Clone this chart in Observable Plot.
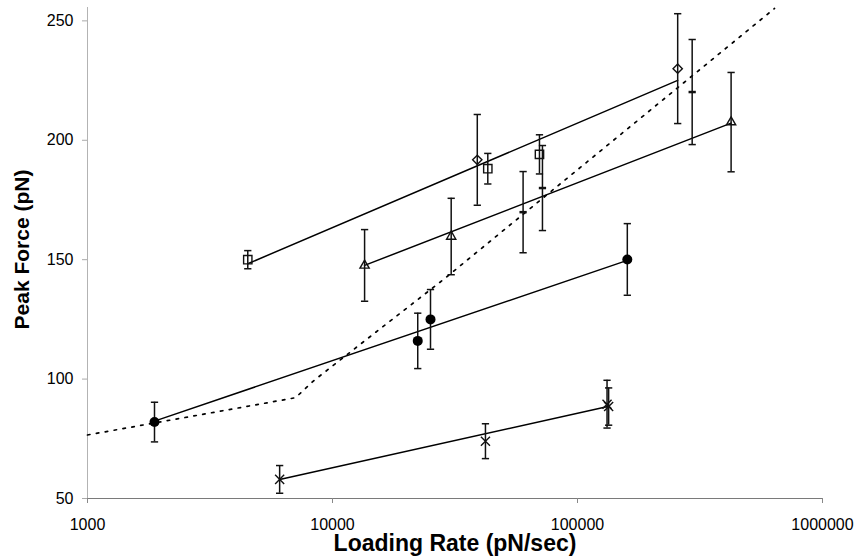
<!DOCTYPE html>
<html><head><meta charset="utf-8">
<script src="https://cdn.jsdelivr.net/npm/d3@7"></script>
<script src="https://cdn.jsdelivr.net/npm/@observablehq/plot@0.6"></script>
<style>body{margin:0;background:#fff}</style>
</head><body><div id="chart"></div>
<script>
// Axis ticks
const xTicks = [1000, 10000, 100000, 1000000];
const yTicks = [50, 100, 150, 200, 250];

// Series: open squares
const squareRate = [4510, 43040, 69950];
const squareForce = [150.0, 188.1, 194.1];
const squareErr = [3.8, 6.4, 8.2];

// Series: open diamonds
const diamondRate = [38990, 256400];
const diamondForce = [191.8, 230.0];
const diamondErr = [19, 23];

// Series: open triangles
const triangleRate = [13520, 30510, 423600];
const triangleForce = [147.6, 159.7, 207.6];
const triangleErr = [15, 16, 20.8];

// Series: filled circles
const circleRate = [1877, 22280, 25120, 159700];
const circleForce = [82.0, 116.0, 125.0, 150.1];
const circleErr = [8.3, 11.6, 12.5, 15];

// Series: crosses
const crossRate = [6085, 42100, 132000, 134000];
const crossForce = [58.0, 74.0, 89.5, 88.5];
const crossErr = [5.8, 7.3, 10, 7.8];

// Series: dash markers
const dashRate = [59970, 71940, 293800];
const dashForce = [169.9, 180.0, 220.2];
const dashErr = [17, 17.8, 22];

// Dotted model curve
const modelRate = [1000, 7060, 8400, 11480, 28060, 637000];
const modelForce = [76.6, 92.2, 99.4, 110.3, 141.3, 255.2];

// Fitted lines (start / end)
const fitSquaresDiamondsRate = [4510, 256400];
const fitSquaresDiamondsForce = [148.3, 225.1];
const fitTrianglesRate = [13520, 423600];
const fitTrianglesForce = [147.6, 207.2];
const fitCirclesRate = [1877, 159700];
const fitCirclesForce = [82.4, 149.7];
const fitCrossesRate = [6085, 133000];
const fitCrossesForce = [58.0, 88.5];

const rows = (name, xs, ys, es) => xs.map((x, i) => ({series: name, x, y: ys[i], e: es ? es[i] : 0}));

const squares = rows("square", squareRate, squareForce, squareErr);
const diamonds = rows("diamond", diamondRate, diamondForce, diamondErr);
const triangles = rows("triangle", triangleRate, triangleForce, triangleErr);
const circles = rows("circle", circleRate, circleForce, circleErr);
const crosses = rows("cross", crossRate, crossForce, crossErr);
const dashes = rows("dash", dashRate, dashForce, dashErr);
const allPts = [...squares, ...diamonds, ...triangles, ...circles, ...crosses, ...dashes];

const model = rows("model", modelRate, modelForce);
const fits = [
  ...rows("sd", fitSquaresDiamondsRate, fitSquaresDiamondsForce),
  ...rows("t", fitTrianglesRate, fitTrianglesForce),
  ...rows("c", fitCirclesRate, fitCirclesForce),
  ...rows("x", fitCrossesRate, fitCrossesForce)
];

const hline = {draw(ctx, size) { const r = Math.sqrt(size) / 2; ctx.moveTo(-r, 0); ctx.lineTo(r, 0); }};
const ink = "#111";

const chart = Plot.plot({
  width: 857, height: 558,
  marginLeft: 87, marginRight: 35, marginTop: 7, marginBottom: 60,
  style: {fontFamily: "'Liberation Sans', Arial, sans-serif", fontSize: "16px", background: "white", color: "black", overflow: "visible"},
  x: {type: "log", domain: [1000, 1000000]},
  y: {type: "linear", domain: [50, 255.6]},
  marks: [
    Plot.ruleX([1000], {stroke: "#b3b3b3", strokeWidth: 1}),
    Plot.ruleY([50], {stroke: "#7a7a7a", strokeWidth: 1}),
    Plot.axisX({ticks: xTicks, tickFormat: d3.format("d"), tickSize: 5, tickPadding: 15, stroke: "#888", fill: "black", label: null}),
    Plot.axisY({ticks: yTicks, tickSize: 5, tickPadding: 9, stroke: "#aaa", fill: "black", label: null}),
    Plot.line(model, {x: "x", y: "y", stroke: "black", strokeWidth: 1.7, strokeDasharray: "2.5,6.5"}),
    Plot.line(fits, {x: "x", y: "y", z: "series", stroke: "black", strokeWidth: 1.5}),
    Plot.ruleX(allPts, {x: "x", y1: d => d.y - d.e, y2: d => d.y + d.e, stroke: ink, strokeWidth: 1.5}),
    Plot.dot(allPts, {x: "x", y: d => d.y - d.e, symbol: hline, r: 4.1, stroke: ink, strokeWidth: 1.5}),
    Plot.dot(allPts, {x: "x", y: d => d.y + d.e, symbol: hline, r: 4.1, stroke: ink, strokeWidth: 1.5}),
    Plot.dot(squares, {x: "x", y: "y", symbol: "square2", r: 5.3, stroke: ink, strokeWidth: 1.4, fill: "none"}),
    Plot.dot(diamonds, {x: "x", y: "y", symbol: "diamond2", r: 4.2, stroke: ink, strokeWidth: 1.4, fill: "none"}),
    Plot.dot(triangles, {x: "x", y: "y", symbol: "triangle2", r: 4.4, stroke: ink, strokeWidth: 1.4, fill: "none"}),
    Plot.dot(circles, {x: "x", y: "y", r: 5, fill: "black", stroke: "none"}),
    Plot.dot(crosses, {x: "x", y: "y", symbol: "times", r: 4.2, stroke: ink, strokeWidth: 1.4}),
    Plot.dot(dashes, {x: "x", y: "y", symbol: hline, r: 4.1, stroke: ink, strokeWidth: 2.5}),
    Plot.text(["Loading Rate (pN/sec)"], {text: d => d, frameAnchor: "bottom", lineAnchor: "middle", textAnchor: "middle", dy: 45, fontSize: 23, fontWeight: "bold", fill: "black"}),
    Plot.text(["Peak Force (pN)"], {text: d => d, frameAnchor: "left", lineAnchor: "middle", textAnchor: "middle", dx: -65, dy: -3.5, rotate: -90, fontSize: 21, fontWeight: "bold", fill: "black"})
  ]
});
document.getElementById("chart").appendChild(chart);
</script>
</body></html>
